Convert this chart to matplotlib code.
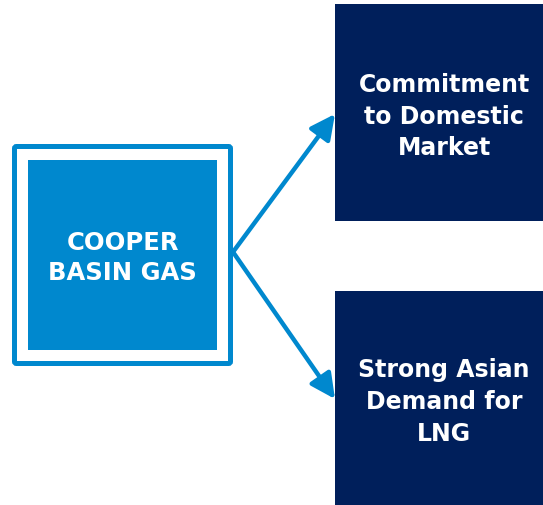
import matplotlib
matplotlib.use("Agg")
import matplotlib.pyplot as plt
from matplotlib.patches import Rectangle, FancyBboxPatch, FancyArrowPatch

# Inhalt des Diagramms
source_label = "COOPER\nBASIN GAS"
target_labels = ["Commitment\nto Domestic\nMarket", "Strong Asian\nDemand for\nLNG"]

blue = "#0088CE"
navy = "#001F5B"

W, H = 543, 506
fig = plt.figure(figsize=(W / 100, H / 100), dpi=100)
ax = fig.add_axes([0, 0, 1, 1])
ax.set_xlim(0, W)
ax.set_ylim(H, 0)
ax.axis("off")

# Quelle: Rahmen + gefuelltes Quadrat
frame = FancyBboxPatch((14.5, 147.5), 216, 217, boxstyle="round,pad=0,rounding_size=2",
                       fill=False, edgecolor=blue, linewidth=3.6)
ax.add_patch(frame)
ax.add_patch(Rectangle((28, 161), 189, 190, facecolor=blue, edgecolor="none"))
ax.text(122.5, 258, source_label, ha="center", va="center", color="white",
        fontsize=17.5, fontweight="heavy", linespacing=1.3)

# Ziele
boxes = [(335, 5, 208, 217), (335, 292, 208, 214)]
tips = [(335, 115), (335, 400)]
for (x, y, w, h), label, tip in zip(boxes, target_labels, tips):
    ax.add_patch(Rectangle((x, y), w, h, facecolor=navy, edgecolor="none"))
    ax.text(x + w / 2 + 5, y + h / 2 + 3, label, ha="center", va="center", color="white",
            fontsize=17, fontweight="heavy", linespacing=1.42)
    arr = FancyArrowPatch((233, 253), tip, arrowstyle="-|>,head_length=10,head_width=5",
                          color=blue, linewidth=3.2, shrinkA=0, shrinkB=0, mutation_scale=1.5)
    ax.add_patch(arr)

plt.savefig("out.png", dpi=100)
